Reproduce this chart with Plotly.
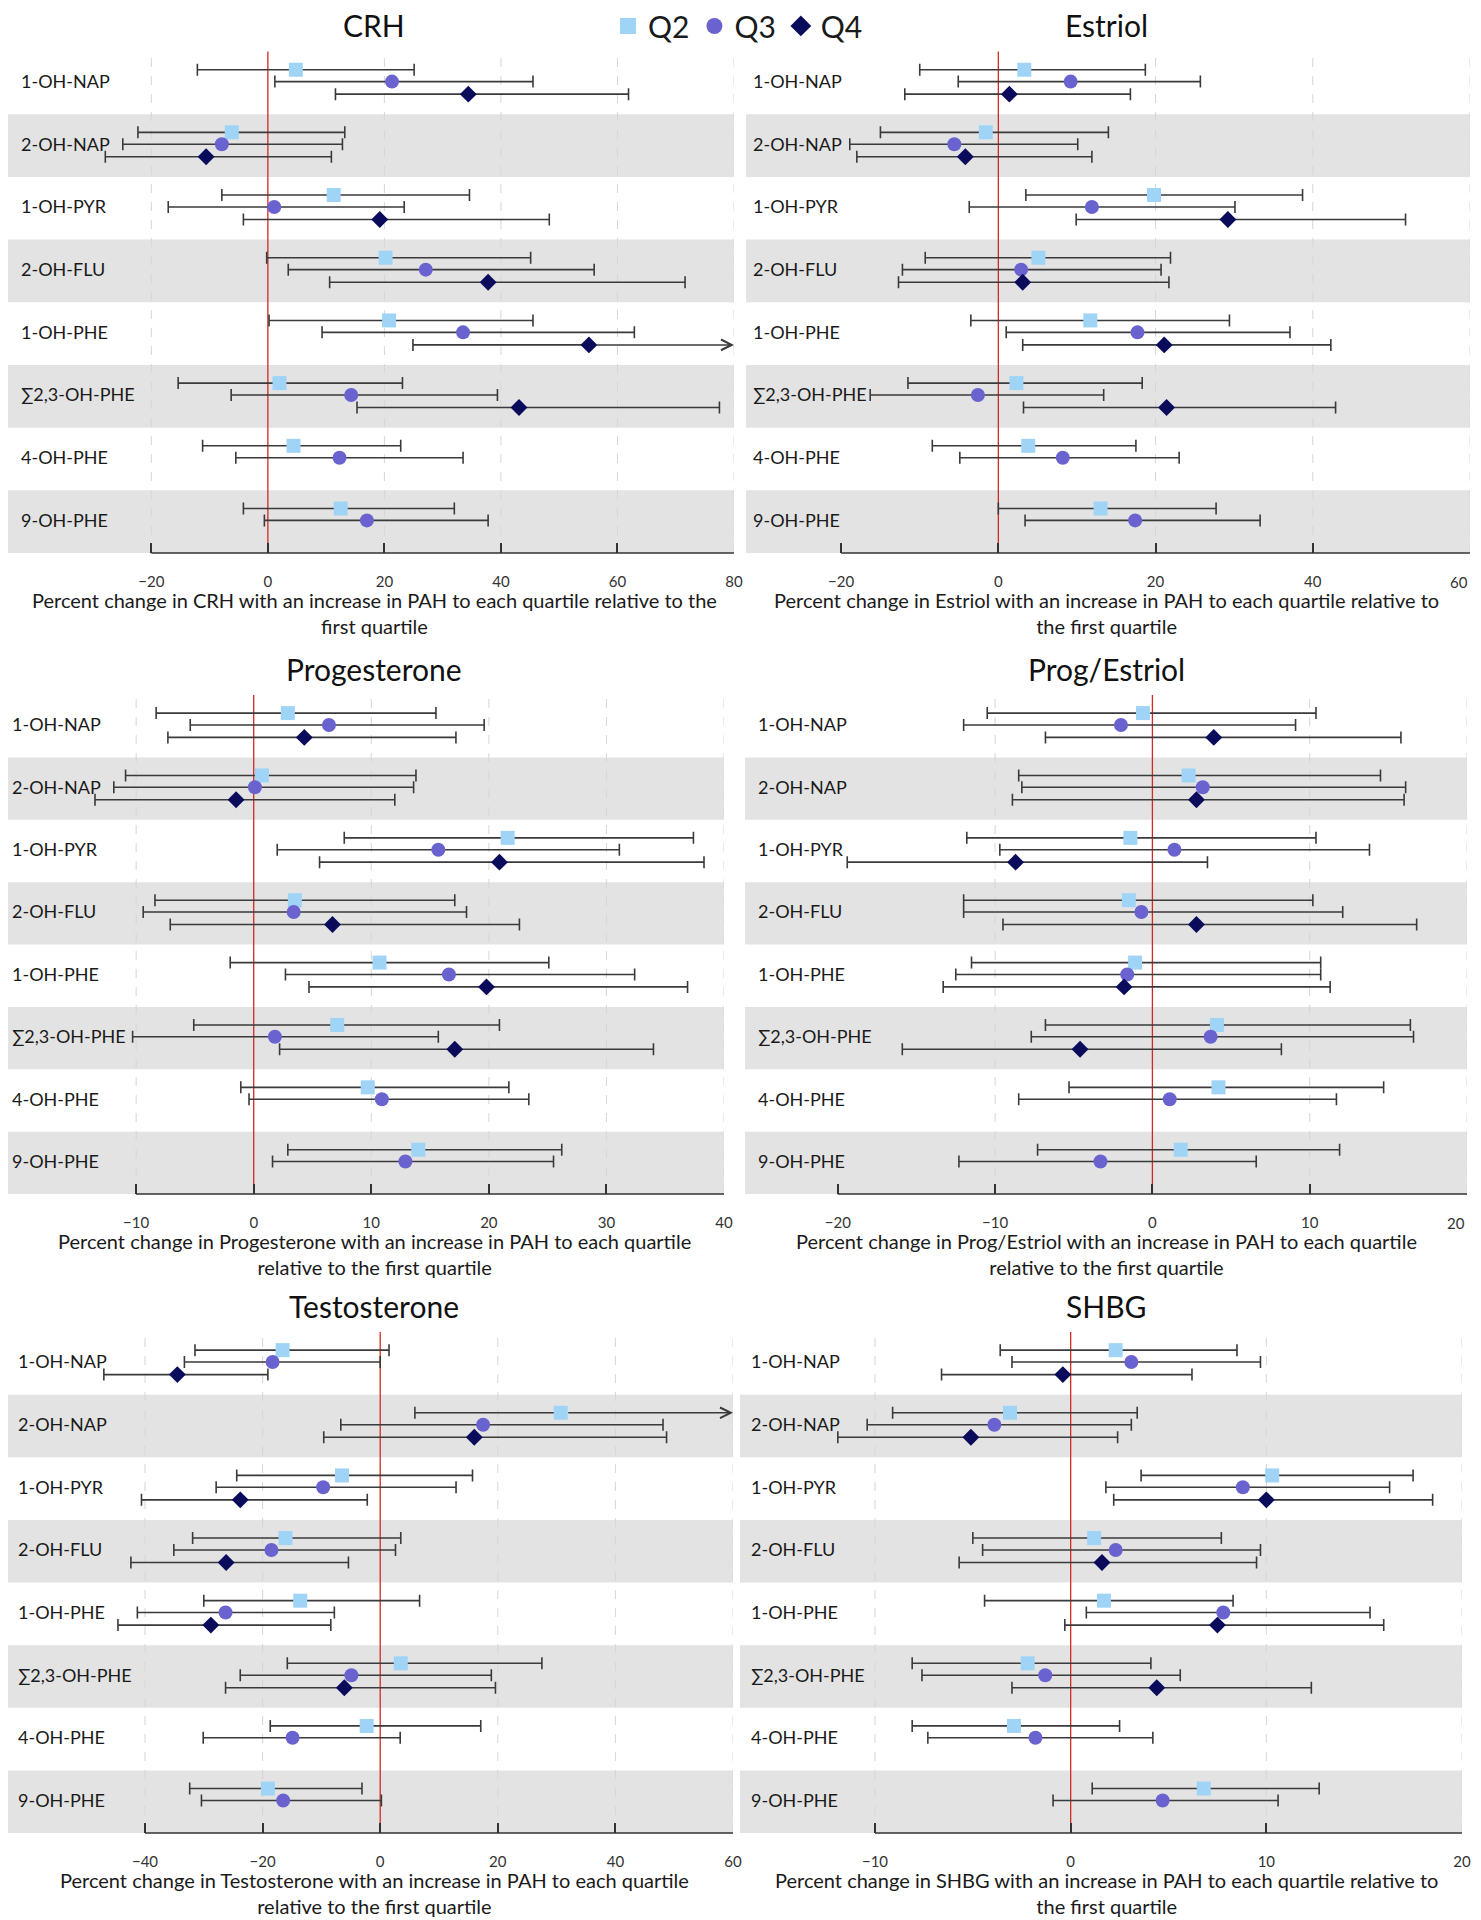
import plotly.graph_objects as go

W, H = 1481, 1920
OFF = 8  # default body margin of the page around the figure
FW, FH = W - 2 * OFF, H - OFF
FONT = "Lato"
TICK_SIZE = 15

ROWS = ["1-OH-NAP", "2-OH-NAP", "1-OH-PYR", "2-OH-FLU",
        "1-OH-PHE", "∑2,3-OH-PHE", "4-OH-PHE", "9-OH-PHE"]
QUARTILES = ["Q2", "Q3", "Q4"]

# (estimate, lower CI, upper CI) for each row; None = not shown
CRH_Q2 = [(4.8, -12.1, 25.1), (-6.2, -22.3, 13.2), (11.3, -7.9, 34.6), (20.2, -0.2, 45.1),
          (20.8, 0.2, 45.5), (2.0, -15.4, 23.1), (4.4, -11.2, 22.8), (12.5, -4.2, 32.0)]
CRH_Q3 = [(21.3, 1.2, 45.5), (-7.9, -24.9, 12.8), (1.1, -17.1, 23.4), (27.1, 3.5, 56.0),
          (33.5, 9.3, 62.9), (14.3, -6.3, 39.4), (12.3, -5.5, 33.5), (17.0, -0.6, 37.8)]
CRH_Q4 = [(34.4, 11.6, 61.9), (-10.6, -27.9, 10.9), (19.2, -4.2, 48.3), (37.8, 10.6, 71.6),
          (55.1, 24.9, 85.0), (43.1, 15.3, 77.5), None, None]

ESTRIOL_Q2 = [(3.3, -10.0, 18.7), (-1.6, -15.0, 14.0), (19.8, 3.5, 38.7), (5.1, -9.3, 21.9),
              (11.7, -3.5, 29.4), (2.3, -11.5, 18.3), (3.8, -8.4, 17.5), (13.0, 0.0, 27.7)]
ESTRIOL_Q3 = [(9.2, -5.1, 25.7), (-5.6, -18.9, 10.1), (11.9, -3.7, 30.1), (2.9, -12.2, 20.7),
              (17.7, 1.0, 37.1), (-2.6, -16.3, 13.4), (8.2, -4.9, 23.0), (17.4, 3.4, 33.3)]
ESTRIOL_Q4 = [(1.4, -11.9, 16.8), (-4.2, -18.0, 11.9), (29.2, 9.9, 51.8), (3.1, -12.7, 21.7),
              (21.1, 3.1, 42.3), (21.4, 3.2, 42.9), None, None]

PROG_Q2 = [(2.9, -8.3, 15.5), (0.7, -10.9, 13.8), (21.6, 7.7, 37.4), (3.5, -8.4, 17.1),
           (10.7, -2.0, 25.1), (7.1, -5.1, 20.9), (9.7, -1.1, 21.7), (14.0, 2.9, 26.2)]
PROG_Q3 = [(6.4, -5.4, 19.6), (0.1, -11.9, 13.6), (15.7, 2.0, 31.1), (3.4, -9.4, 18.1),
           (16.6, 2.7, 32.4), (1.8, -10.3, 15.7), (10.9, -0.4, 23.4), (12.9, 1.6, 25.5)]
PROG_Q4 = [(4.3, -7.3, 17.2), (-1.5, -13.5, 12.0), (20.9, 5.6, 38.3), (6.7, -7.1, 22.6),
           (19.8, 4.7, 36.9), (17.1, 2.2, 34.0), None, None]

PE_Q2 = [(-0.6, -10.5, 10.4), (2.3, -8.5, 14.5), (-1.4, -11.8, 10.4), (-1.5, -12.0, 10.2),
         (-1.1, -11.5, 10.7), (4.1, -6.8, 16.4), (4.2, -5.3, 14.7), (1.8, -7.3, 11.9)]
PE_Q3 = [(-2.0, -12.0, 9.1), (3.2, -8.3, 16.1), (1.4, -9.7, 13.8), (-0.7, -12.0, 12.1),
         (-1.6, -12.5, 10.7), (3.7, -7.7, 16.6), (1.1, -8.5, 11.7), (-3.3, -12.3, 6.6)]
PE_Q4 = [(3.9, -6.8, 15.8), (2.8, -8.9, 16.0), (-8.7, -19.4, 3.5), (2.8, -9.5, 16.8),
         (-1.8, -13.3, 11.3), (-4.6, -15.9, 8.2), None, None]

TESTO_Q2 = [(-16.6, -31.5, 1.5), (30.7, 5.9, 65.0), (-6.5, -24.4, 15.7), (-16.1, -31.9, 3.5),
            (-13.6, -30.0, 6.7), (3.5, -15.8, 27.5), (-2.3, -18.7, 17.1), (-19.1, -32.4, -3.1)]
TESTO_Q3 = [(-18.3, -33.3, 0.0), (17.5, -6.7, 48.1), (-9.7, -27.9, 12.9), (-18.5, -35.1, 2.6),
            (-26.3, -41.3, -7.8), (-4.9, -23.8, 18.9), (-14.9, -30.1, 3.4), (-16.5, -30.4, 0.2)]
TESTO_Q4 = [(-34.5, -47.0, -19.1), (16.0, -9.6, 48.7), (-23.8, -40.6, -2.2), (-26.2, -42.4, -5.4),
            (-28.8, -44.6, -8.4), (-6.1, -26.3, 19.6), None, None]

SHBG_Q2 = [(2.3, -3.6, 8.5), (-3.1, -9.1, 3.4), (10.3, 3.6, 17.5), (1.2, -5.0, 7.7),
           (1.7, -4.4, 8.3), (-2.2, -8.1, 4.1), (-2.9, -8.1, 2.5), (6.8, 1.1, 12.7)]
SHBG_Q3 = [(3.1, -3.0, 9.7), (-3.9, -10.4, 3.1), (8.8, 1.8, 16.3), (2.3, -4.5, 9.7),
           (7.8, 0.8, 15.3), (-1.3, -7.6, 5.6), (-1.8, -7.3, 4.2), (4.7, -0.9, 10.6)]
SHBG_Q4 = [(-0.4, -6.6, 6.2), (-5.1, -11.9, 2.4), (10.0, 2.2, 18.5), (1.6, -5.7, 9.5),
           (7.5, -0.3, 16.0), (4.4, -3.0, 12.3), None, None]

COLORS = {"Q2": "#9fd4f7", "Q3": "#6a63cf", "Q4": "#0b0b5c"}
SYMBOLS = {"Q2": "square", "Q3": "circle", "Q4": "diamond"}
SIZES = {"Q2": 14, "Q3": 14, "Q4": 13}
OFFSETS = {"Q2": -0.21, "Q3": -0.02, "Q4": 0.18}
ERR = "#3a3a3a"
BAND = "#e3e3e3"
GRID = "#d6d6d6"
ZERO = "#d42a22"

PANELS = [
    dict(name="CRH", data=[CRH_Q2, CRH_Q3, CRH_Q4], xrange=[-44.6, 80],
         ticks=[-20, 0, 20, 40, 60, 80], grid=[-20, 20, 40, 60, 80],
         xpx=(8, 734), ypx=(51.5, 553), lab=11, cx=0.25,
         xtitle="Percent change in CRH with an increase in PAH to each quartile relative to the<br>first quartile"),
    dict(name="Estriol", data=[ESTRIOL_Q2, ESTRIOL_Q3, ESTRIOL_Q4], xrange=[-32.1, 60],
         ticks=[-20, 0, 20, 40, 60], grid=[20, 40, 60],
         xpx=(746, 1470), ypx=(51.5, 553), lab=5, cx=0.75,
         xtitle="Percent change in Estriol with an increase in PAH to each quartile relative to<br>the first quartile"),
    dict(name="Progesterone", data=[PROG_Q2, PROG_Q3, PROG_Q4], xrange=[-20.9, 40],
         ticks=[-10, 0, 10, 20, 30, 40], grid=[-10, 10, 20, 30, 40],
         xpx=(8, 724), ypx=(695, 1194), lab=2, cx=0.25,
         xtitle="Percent change in Progesterone with an increase in PAH to each quartile<br>relative to the first quartile"),
    dict(name="Prog/Estriol", data=[PE_Q2, PE_Q3, PE_Q4], xrange=[-25.9, 20],
         ticks=[-20, -10, 0, 10, 20], grid=[-10, 10, 20],
         xpx=(745, 1467), ypx=(695, 1194), lab=11, cx=0.75,
         xtitle="Percent change in Prog/Estriol with an increase in PAH to each quartile<br>relative to the first quartile"),
    dict(name="Testosterone", data=[TESTO_Q2, TESTO_Q3, TESTO_Q4], xrange=[-63.3, 60],
         ticks=[-40, -20, 0, 20, 40, 60], grid=[-40, -20, 20, 40, 60],
         xpx=(8, 733), ypx=(1332, 1833), lab=8, cx=0.25,
         xtitle="Percent change in Testosterone with an increase in PAH to each quartile<br>relative to the first quartile"),
    dict(name="SHBG", data=[SHBG_Q2, SHBG_Q3, SHBG_Q4], xrange=[-16.9, 20],
         ticks=[-10, 0, 10, 20], grid=[-10, 10, 20],
         xpx=(740, 1462), ypx=(1332, 1833), lab=9, cx=0.75,
         xtitle="Percent change in SHBG with an increase in PAH to each quartile relative to<br>the first quartile"),
]


def px_x(v):
    return (v - OFF) / FW


def px_y(v):
    return 1 - (v - OFF) / FH


def tick_text(t):
    return str(t).replace("-", "−")


fig = go.Figure()
shapes, annotations, axes = [], [], {}

# legend-only entries (bigger symbols than the plotted markers)
for q in QUARTILES:
    fig.add_trace(go.Scatter(x=[None], y=[None], mode="markers", name=q,
                             marker=dict(symbol=SYMBOLS[q], size=20, color=COLORS[q])))

for k, p in enumerate(PANELS, start=1):
    sfx = "" if k == 1 else str(k)
    xa, ya = "x" + sfx, "y" + sfx
    xmax = p["xrange"][1]

    for q, rows in zip(QUARTILES, p["data"]):
        xs, ys, plus, minus = [], [], [], []
        for i, d in enumerate(rows):
            if d is None:
                continue
            est, lo, hi = d
            xs.append(est)
            ys.append(i + OFFSETS[q])
            minus.append(est - lo)
            if hi > xmax:
                # CI runs off the axis: arrow to the edge instead of a cap
                plus.append(0)
                annotations.append(dict(
                    x=xmax, y=i + OFFSETS[q], ax=est, ay=i + OFFSETS[q],
                    xref=xa, yref=ya, axref=xa, ayref=ya, text="", showarrow=True,
                    arrowhead=5, arrowsize=1.4, arrowwidth=1.5, arrowcolor=ERR,
                    startstandoff=6, standoff=0))
            else:
                plus.append(hi - est)
        fig.add_trace(go.Scatter(
            x=xs, y=ys, xaxis=xa, yaxis=ya, mode="markers", name=q, showlegend=False,
            marker=dict(symbol=SYMBOLS[q], size=SIZES[q], color=COLORS[q]),
            error_x=dict(type="data", symmetric=False, array=plus, arrayminus=minus,
                         color=ERR, thickness=1.6, width=6),
            hoverinfo="skip"))

    # shaded alternate rows
    for i in range(1, len(ROWS), 2):
        shapes.append(dict(type="rect", xref=xa + " domain", yref=ya, x0=0, x1=1,
                           y0=i - 0.5, y1=i + 0.5, fillcolor=BAND, line_width=0,
                           layer="below"))
    # dashed vertical grid
    for g in p["grid"]:
        shapes.append(dict(type="line", xref=xa, yref=ya + " domain", x0=g, x1=g,
                           y0=0, y1=1, line=dict(color=GRID, width=1, dash="dash"),
                           layer="below"))
    # zero reference line
    shapes.append(dict(type="line", xref=xa, yref=ya + " domain", x0=0, x1=0, y0=0, y1=1,
                       line=dict(color=ZERO, width=1.3), layer="below"))
    # axis line across the tick range
    shapes.append(dict(type="line", xref=xa, yref=ya + " domain",
                       x0=p["ticks"][0], x1=p["ticks"][-1], y0=0, y1=0,
                       line=dict(color="#333333", width=1.6)))

    for i, r in enumerate(ROWS):
        annotations.append(dict(x=0, y=i - 0.03, xref=xa + " domain", yref=ya, text=r,
                                showarrow=False, xanchor="left", yanchor="middle",
                                xshift=p["lab"], font=dict(size=18, color="#1a1a1a")))

    annotations.append(dict(x=p["cx"], y=1, xref="paper", yref=ya + " domain",
                            text=p["name"], showarrow=False, xanchor="center",
                            yanchor="middle", yshift=26, font=dict(size=30, color="#111111")))
    annotations.append(dict(x=p["cx"], y=0, xref="paper", yref=ya + " domain",
                            text=p["xtitle"], showarrow=False, xanchor="center",
                            yanchor="top", yshift=-33, font=dict(size=20, color="#1a1a1a")))

    x0, x1 = p["xpx"]
    y0, y1 = p["ypx"]
    labels = [tick_text(t) for t in p["ticks"]]
    # a last tick label that would run past the page edge is drawn right-aligned instead
    if px_x(x1) * FW + 9 > FW:
        annotations.append(dict(x=p["ticks"][-1], y=0, xref=xa, yref=ya + " domain",
                                text=labels[-1], showarrow=False, xanchor="right",
                                yanchor="middle", yshift=-29,
                                font=dict(size=TICK_SIZE, color="#333333")))
        labels[-1] = ""
    axes["xaxis" + sfx] = dict(
        domain=[px_x(x0), px_x(x1)], range=p["xrange"], anchor=ya, automargin=False,
        tickvals=p["ticks"], ticktext=labels,
        ticks="inside", ticklen=10, tickwidth=1.5, tickcolor="#333333",
        showline=False, showgrid=False, zeroline=False, ticklabelstandoff=18,
        ticklabeloverflow="allow",
        tickfont=dict(size=TICK_SIZE, color="#333333"), fixedrange=True)
    axes["yaxis" + sfx] = dict(
        domain=[px_y(y1), px_y(y0)], range=[len(ROWS) - 0.5, -0.5], anchor=xa,
        automargin=False, showgrid=False, showticklabels=False, zeroline=False,
        showline=False, ticks="", fixedrange=True)

fig.update_layout(
    width=FW, height=FH, autosize=False,
    margin=dict(l=0, r=0, t=0, b=0, autoexpand=False),
    paper_bgcolor="white", plot_bgcolor="white",
    font=dict(family=FONT, color="#1a1a1a"),
    shapes=shapes, annotations=annotations,
    legend=dict(orientation="h", x=px_x(608), y=1.0042, xanchor="left", yanchor="top",
                font=dict(size=30, color="#1a1a1a"), bgcolor="rgba(0,0,0,0)",
                itemwidth=30, tracegroupgap=0),
    **axes,
)

fig.write_html("out.html", config={"displayModeBar": False})
